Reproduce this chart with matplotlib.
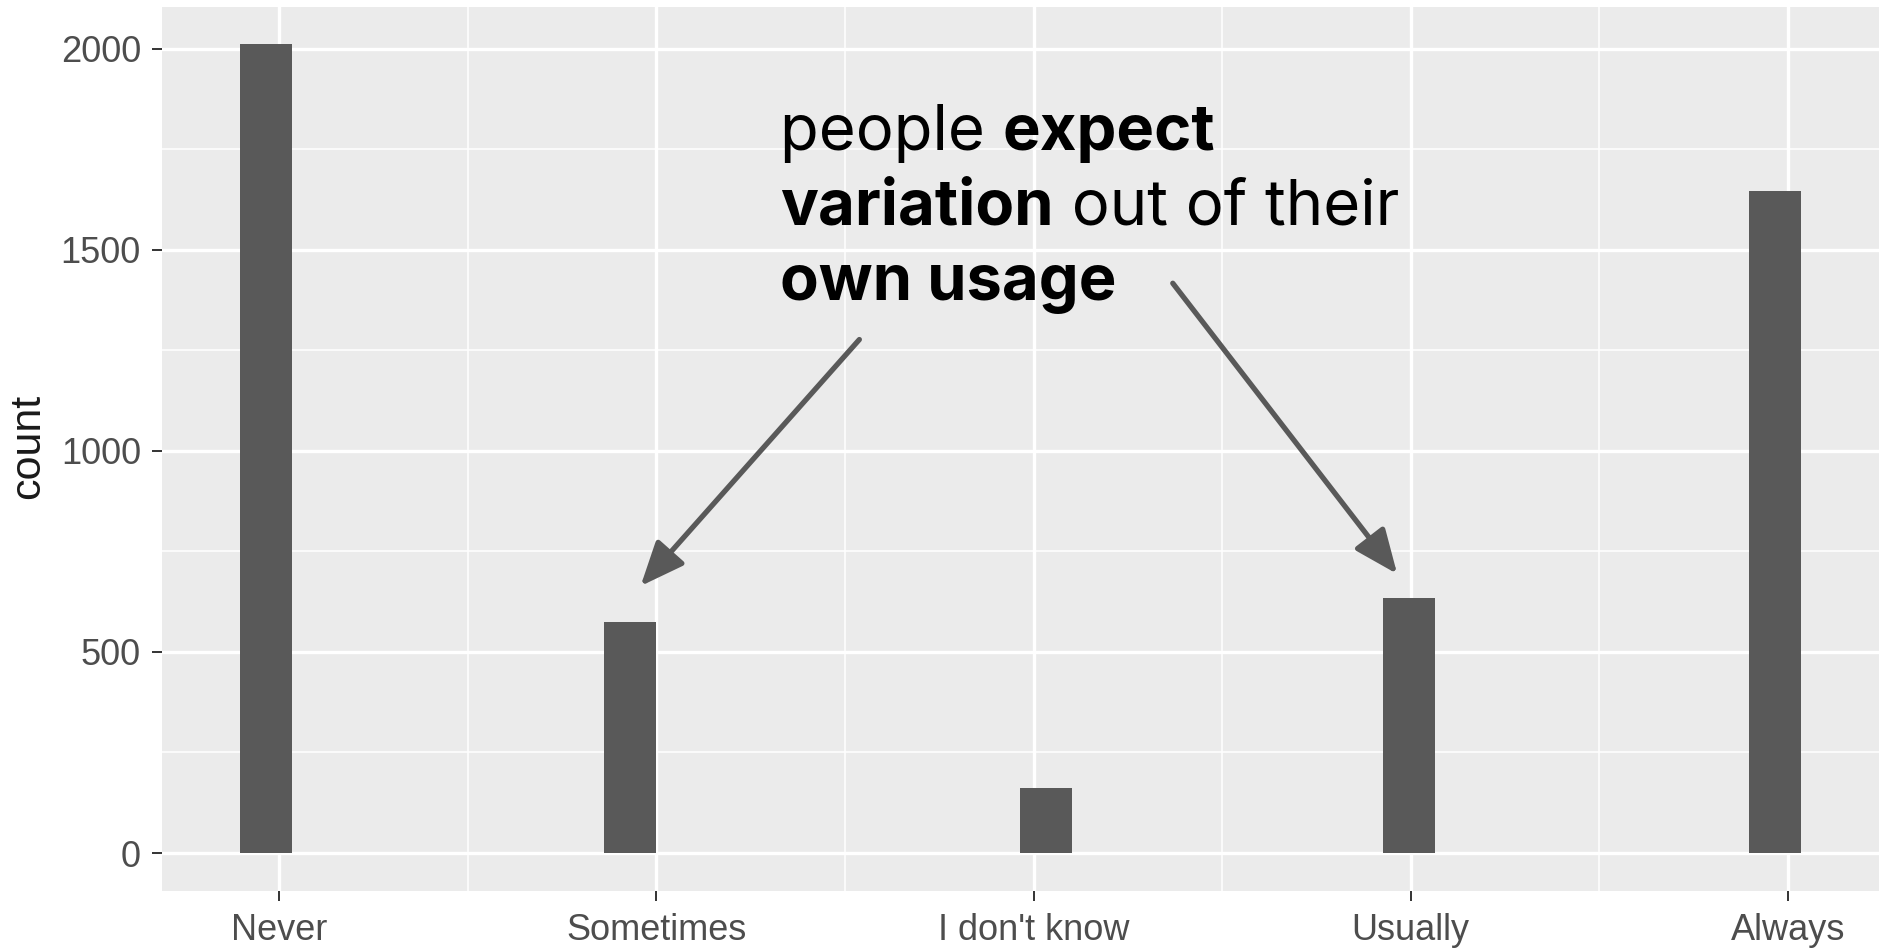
import matplotlib
matplotlib.use('Agg')
import matplotlib.pyplot as plt
from matplotlib.ticker import FixedLocator
import numpy as np

# ---- data ----
categories = ["Never", "Sometimes", "I don't know", "Usually", "Always"]
counts = [2011, 575, 161, 633, 1646]
y_ticks = [0, 500, 1000, 1500, 2000]
y_tick_labels = ["0", "500", "1000", "1500", "2000"]

annotation_lines = [
    [("people ", "normal"), ("expect", "bold")],
    [("variation", "bold"), (" out of their", "normal")],
    [("own usage", "bold")],
]

# ---- styling / layout ----
bar_shift = [-0.035, -0.070, 0.034, -0.004, -0.034]
W, H = 1879, 952
fig = plt.figure(figsize=(W / 100, H / 100), dpi=100)
fig.patch.set_facecolor('white')
ax = fig.add_axes([162 / W, (H - 891) / H, 1 - 162 / W, (891 - 7) / H])
ax.set_facecolor('#EBEBEB')

x = np.arange(len(categories))
ax.bar(x + np.array(bar_shift), counts, width=0.138, color='#595959', zorder=3)

ax.set_xlim(-0.311, 4.2415)
ax.set_ylim(-94.5, 2104)

ax.set_xticks(x)
ax.set_xticklabels(categories, family='Liberation Sans')
ax.set_yticks(y_ticks)
ax.set_yticklabels(y_tick_labels, family='Liberation Sans')
ax.xaxis.set_minor_locator(FixedLocator([0.5, 1.5, 2.5, 3.5]))
ax.yaxis.set_minor_locator(FixedLocator([250, 750, 1250, 1750]))

ax.grid(which='major', color='white', lw=2.4, zorder=1)
ax.grid(which='minor', color='white', lw=1.1, zorder=1)
ax.set_axisbelow(True)
for s in ax.spines.values():
    s.set_visible(False)

ax.tick_params(which='major', length=7.2, width=1.4, color='#333333',
               labelsize=26, labelcolor='#4D4D4D')
ax.tick_params(axis='y', which='major', pad=8)
ax.tick_params(axis='x', which='major', pad=9)
ax.tick_params(which='minor', length=0)

ax.set_ylabel('count', fontsize=31, color='#1A1A1A', family='Liberation Sans')
ax.yaxis.label.set_va('center')
ax.yaxis.label.set_ha('center')
ax.yaxis.set_label_coords((28 - 162) / (W - 162), (891 - 446) / 884)

# ---- annotation text with mixed weights ----
renderer = fig.canvas.get_renderer()
x0 = 1.3277
baselines = [1748, 1562, 1376]
for line, yb in zip(annotation_lines, baselines):
    off = 0.0
    for txt, wt in line:
        t = ax.annotate(txt, xy=(x0, yb), xycoords='data',
                        xytext=(off, 0), textcoords='offset points',
                        fontsize=45.6, fontweight=wt, family='Inter',
                        color='black', va='baseline', ha='left', zorder=5)
        w = t.get_window_extent(renderer).width
        off += w * 72 / fig.dpi

# ---- arrows ----
arrow_kw = dict(arrowstyle='-|>,head_length=0.45,head_width=0.19',
                mutation_scale=60, lw=3.8, color='#595959',
                shrinkA=0, shrinkB=0)
ax.annotate('', xy=(0.958, 664), xytext=(1.538, 1277), xycoords='data',
            arrowprops=arrow_kw, zorder=4)
ax.annotate('', xy=(2.964, 694), xytext=(2.369, 1417), xycoords='data',
            arrowprops=arrow_kw, zorder=4)

fig.savefig('out.png', dpi=100)
